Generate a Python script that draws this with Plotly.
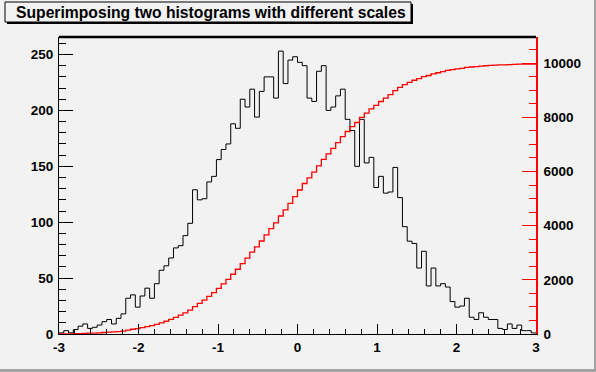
import numpy as np
import plotly.graph_objects as go

# ---- data ----
x_min, x_max, n_bins = -3.0, 3.0, 100
counts = [
    1, 3, 1, 4, 7, 9, 5, 6, 8, 11,
    13, 9, 14, 18, 32, 35, 24, 34, 41, 32,
    45, 57, 61, 68, 77, 79, 88, 99, 129, 120,
    121, 136, 141, 156, 165, 170, 188, 184, 210, 203,
    219, 194, 217, 230, 230, 211, 253, 224, 245, 248,
    243, 240, 211, 208, 235, 240, 200, 203, 213, 219,
    192, 182, 150, 192, 153, 158, 131, 141, 126, 127,
    149, 122, 96, 83, 81, 59, 74, 43, 59, 43,
    45, 42, 29, 24, 25, 32, 15, 13, 19, 15,
    13, 13, 5, 4, 9, 5, 8, 3, 3, 1,
]
left_ticks = [0, 50, 100, 150, 200, 250]
right_ticks = [0, 2000, 4000, 6000, 8000, 10000]
bottom_ticks = [-3, -2, -1, 0, 1, 2, 3]
title_text = "Superimposing two histograms with different scales"

# ---- derived ----
edges = np.linspace(x_min, x_max, n_bins + 1)
cum = np.cumsum(counts)
left_max = 1.05 * max(counts)
right_max = 1.1 * cum[-1]

xs = list(edges)
ys_black = list(counts) + [counts[-1]]
ys_red = list(cum) + [cum[-1]]

W, H = 596, 372
L, R, T, B = 59, 60, 37, 38
PW, PH = W - L - R, H - T - B


def px(xp):
    return (xp - L) / PW


def py(yp):
    return (H - B - yp) / PH


BG = "#f2f2f2"
FONT = dict(family="Liberation Sans, Arial, sans-serif", size=13.5, color="black", weight="bold")

fig = go.Figure()
fig.add_trace(go.Scatter(x=xs, y=ys_black, mode="lines", line=dict(color="black", width=1, shape="hv"),
                         showlegend=False, hoverinfo="skip"))
fig.add_trace(go.Scatter(x=xs, y=ys_red, mode="lines", line=dict(color="red", width=1.3, shape="hv"),
                         showlegend=False, hoverinfo="skip", yaxis="y2"))

fig.update_layout(
    width=W, height=H,
    margin=dict(l=L, r=R, t=T, b=B, pad=0),
    paper_bgcolor=BG, plot_bgcolor=BG,
    font=FONT,
    xaxis=dict(range=[x_min, x_max], showgrid=False, zeroline=False, showline=True, linecolor="black",
               linewidth=1, ticks="inside", ticklen=10, tickcolor="black", tickwidth=1,
               tickvals=bottom_ticks, ticktext=[str(v) for v in bottom_ticks], ticklabelstandoff=1,
               minor=dict(ticks="inside", ticklen=5, dtick=0.2, tick0=-3, tickcolor="black", showgrid=False),
               tickfont=FONT),
    yaxis=dict(range=[0, left_max], showgrid=False, zeroline=False, showline=True, linecolor="black",
               linewidth=1, ticks="inside", ticklen=14, tickcolor="black", tickwidth=1,
               tickvals=left_ticks, ticktext=[str(v) for v in left_ticks], ticklabelstandoff=2,
               minor=dict(ticks="inside", ticklen=7, dtick=10, tick0=0, tickcolor="black", showgrid=False),
               tickfont=FONT),
    yaxis2=dict(range=[0, right_max], overlaying="y", side="right", showgrid=False, zeroline=False,
                showline=True, linecolor="red", linewidth=1.5, ticks="inside", ticklen=14, tickcolor="red",
                tickwidth=1, tickvals=right_ticks, ticktext=[str(v) for v in right_ticks],
                ticklabelstandoff=3,
                minor=dict(ticks="inside", ticklen=7, dtick=500, tick0=0, tickcolor="red", showgrid=False),
                tickfont=FONT),
)

shapes = []
# top frame line
shapes.append(dict(type="line", xref="paper", yref="paper", x0=0, x1=1, y0=1, y1=1,
                   line=dict(color="black", width=2.5)))
# canvas bevel border (bottom / right darker)
shapes.append(dict(type="rect", xref="paper", yref="paper", x0=px(0), x1=px(W), y0=py(369), y1=py(H + 1),
                   fillcolor="#a3a3a3", line=dict(width=0), layer="above"))
shapes.append(dict(type="rect", xref="paper", yref="paper", x0=px(594), x1=px(W + 1), y0=py(0), y1=py(H),
                   fillcolor="#a3a3a3", line=dict(width=0), layer="above"))
# title box shadow and box
shapes.append(dict(type="rect", xref="paper", yref="paper", x0=px(7), x1=px(413), y0=py(4), y1=py(24),
                   fillcolor="black", line=dict(width=0), layer="above"))
shapes.append(dict(type="rect", xref="paper", yref="paper", x0=px(5), x1=px(411), y0=py(2), y1=py(22),
                   fillcolor=BG, line=dict(color="black", width=1), layer="above"))
fig.update_layout(shapes=shapes)

fig.add_annotation(text=title_text, xref="paper", yref="paper", x=px(14), y=py(12.5),
                   xanchor="left", yanchor="middle", showarrow=False,
                   font=dict(family="Liberation Sans, Arial, sans-serif", size=15.7, color="black", weight="bold"))

fig.write_html("out.html", config={"displayModeBar": False},
               post_script="document.body.style.margin='0';document.body.style.overflow='hidden';")
